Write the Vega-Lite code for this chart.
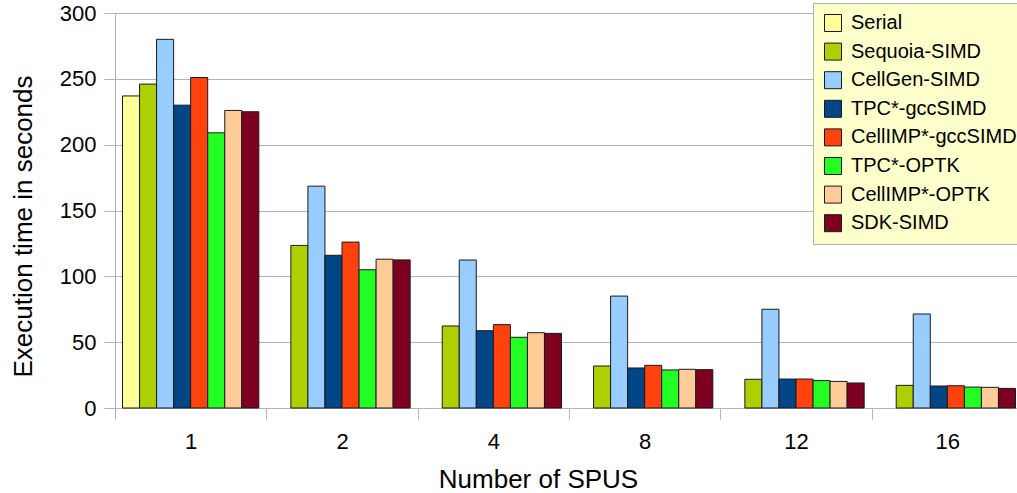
{
  "$schema": "https://vega.github.io/schema/vega-lite/v6.json",
  "width": 908,
  "height": 395,
  "autosize": {"type": "none"},
  "padding": {"left": 115, "top": 13, "right": 0, "bottom": 85},
  "background": "white",
  "config": {
    "font": "Liberation Sans",
    "view": {"stroke": null},
    "axis": {"labelFont": "Liberation Sans", "titleFont": "Liberation Sans", "labelColor": "#000", "titleColor": "#000", "titleFontWeight": "normal", "domainColor": "#b3b3b3", "tickColor": "#b3b3b3", "gridColor": "#b3b3b3"}
  },
  "data": {
    "values": [
      {"spus": "1", "impl": "Serial", "time": 237},
      {"spus": "1", "impl": "Sequoia-SIMD", "time": 246},
      {"spus": "1", "impl": "CellGen-SIMD", "time": 280},
      {"spus": "1", "impl": "TPC*-gccSIMD", "time": 230},
      {"spus": "1", "impl": "CellIMP*-gccSIMD", "time": 251},
      {"spus": "1", "impl": "TPC*-OPTK", "time": 209},
      {"spus": "1", "impl": "CellIMP*-OPTK", "time": 226},
      {"spus": "1", "impl": "SDK-SIMD", "time": 225},
      {"spus": "2", "impl": "Sequoia-SIMD", "time": 123.5},
      {"spus": "2", "impl": "CellGen-SIMD", "time": 168.5},
      {"spus": "2", "impl": "TPC*-gccSIMD", "time": 116},
      {"spus": "2", "impl": "CellIMP*-gccSIMD", "time": 126},
      {"spus": "2", "impl": "TPC*-OPTK", "time": 105},
      {"spus": "2", "impl": "CellIMP*-OPTK", "time": 113},
      {"spus": "2", "impl": "SDK-SIMD", "time": 112.5},
      {"spus": "4", "impl": "Sequoia-SIMD", "time": 62.3},
      {"spus": "4", "impl": "CellGen-SIMD", "time": 112.4},
      {"spus": "4", "impl": "TPC*-gccSIMD", "time": 58.7},
      {"spus": "4", "impl": "CellIMP*-gccSIMD", "time": 63.3},
      {"spus": "4", "impl": "TPC*-OPTK", "time": 53.7},
      {"spus": "4", "impl": "CellIMP*-OPTK", "time": 57.2},
      {"spus": "4", "impl": "SDK-SIMD", "time": 56.7},
      {"spus": "8", "impl": "Sequoia-SIMD", "time": 31.9},
      {"spus": "8", "impl": "CellGen-SIMD", "time": 85},
      {"spus": "8", "impl": "TPC*-gccSIMD", "time": 30.4},
      {"spus": "8", "impl": "CellIMP*-gccSIMD", "time": 32.4},
      {"spus": "8", "impl": "TPC*-OPTK", "time": 28.9},
      {"spus": "8", "impl": "CellIMP*-OPTK", "time": 29.4},
      {"spus": "8", "impl": "SDK-SIMD", "time": 29.1},
      {"spus": "12", "impl": "Sequoia-SIMD", "time": 21.8},
      {"spus": "12", "impl": "CellGen-SIMD", "time": 75},
      {"spus": "12", "impl": "TPC*-gccSIMD", "time": 22},
      {"spus": "12", "impl": "CellIMP*-gccSIMD", "time": 22},
      {"spus": "12", "impl": "TPC*-OPTK", "time": 20.8},
      {"spus": "12", "impl": "CellIMP*-OPTK", "time": 20.2},
      {"spus": "12", "impl": "SDK-SIMD", "time": 19},
      {"spus": "16", "impl": "Sequoia-SIMD", "time": 17.2},
      {"spus": "16", "impl": "CellGen-SIMD", "time": 71.4},
      {"spus": "16", "impl": "TPC*-gccSIMD", "time": 16.7},
      {"spus": "16", "impl": "CellIMP*-gccSIMD", "time": 16.9},
      {"spus": "16", "impl": "TPC*-OPTK", "time": 15.9},
      {"spus": "16", "impl": "CellIMP*-OPTK", "time": 15.7},
      {"spus": "16", "impl": "SDK-SIMD", "time": 14.9}
    ]
  },
  "mark": {"type": "bar", "stroke": "#1a1a1a", "strokeWidth": 1},
  "encoding": {
    "x": {
      "field": "spus", "type": "nominal",
      "sort": ["1", "2", "4", "8", "12", "16"],
      "scale": {"paddingInner": 0, "paddingOuter": 0},
      "axis": {"title": "Number of SPUS", "labelAngle": 0, "labelFontSize": 22, "titleFontSize": 26, "tickBand": "extent", "tickSize": 11, "labelPadding": 12, "titlePadding": 14, "titleX": 423, "grid": false}
    },
    "xOffset": {
      "field": "impl", "type": "nominal",
      "sort": ["Serial", "Sequoia-SIMD", "CellGen-SIMD", "TPC*-gccSIMD", "CellIMP*-gccSIMD", "TPC*-OPTK", "CellIMP*-OPTK", "SDK-SIMD"],
      "scale": {"paddingInner": 0, "paddingOuter": 0.44}
    },
    "y": {
      "field": "time", "type": "quantitative",
      "scale": {"domain": [0, 300], "nice": false},
      "axis": {"title": "Execution time in seconds", "values": [0, 50, 100, 150, 200, 250, 300], "labelFontSize": 22, "titleFontSize": 26, "tickSize": 11, "labelPadding": 8, "titlePadding": 23, "titleY": 213, "grid": true}
    },
    "color": {
      "field": "impl", "type": "nominal",
      "sort": ["Serial", "Sequoia-SIMD", "CellGen-SIMD", "TPC*-gccSIMD", "CellIMP*-gccSIMD", "TPC*-OPTK", "CellIMP*-OPTK", "SDK-SIMD"],
      "scale": {
        "domain": ["Serial", "Sequoia-SIMD", "CellGen-SIMD", "TPC*-gccSIMD", "CellIMP*-gccSIMD", "TPC*-OPTK", "CellIMP*-OPTK", "SDK-SIMD"],
        "range": ["#ffff99", "#aecf00", "#99ccff", "#004586", "#ff420e", "#23ff23", "#ffcc99", "#7e0021"]
      },
      "legend": {
        "title": null,
        "orient": "none",
        "legendX": 698,
        "legendY": -10,
        "fillColor": "#ffffcc",
        "strokeColor": "#b3b3b3",
        "padding": 10,
        "symbolType": "square",
        "symbolSize": 289,
        "symbolStrokeColor": "#1a1a1a",
        "symbolStrokeWidth": 1,
        "symbolOpacity": 1,
        "labelFontSize": 20,
        "labelFont": "Liberation Sans",
        "labelColor": "#000",
        "labelOffset": 8,
        "rowPadding": 6.6,
        "labelLimit": 300
      }
    }
  }
}
